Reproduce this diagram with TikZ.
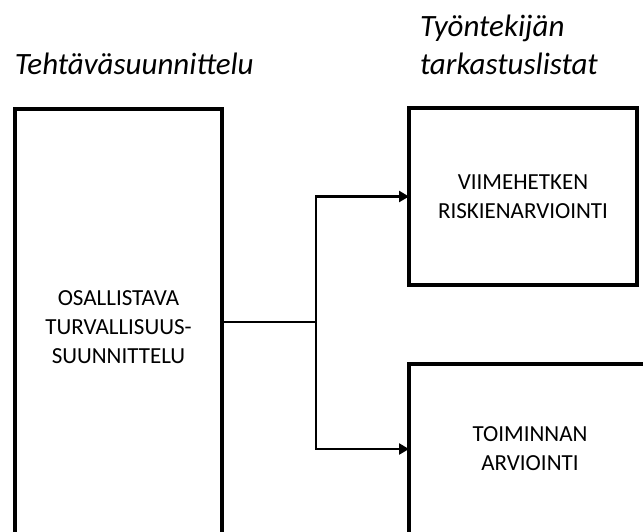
\documentclass[tikz,border=0pt]{standalone}
\usepackage{fontspec}
\setmainfont{Carlito}
\usetikzlibrary{arrows.meta,positioning}

\begin{document}
\begin{tikzpicture}[x=1pt,y=-1pt, every node/.style={inner sep=0pt,outer sep=0pt},
    laatikko/.style={draw=black,line width=4.5pt,fill=white,align=center,font=\fontsize{23}{29}\selectfont},
    otsikko/.style={align=left,font=\fontsize{31}{38}\selectfont\itshape},
    yhteys/.style={line width=2.6pt},
    nuoli/.style={yhteys,-{Triangle[length=10pt,width=11pt]}}]
      \clip (0,0) rectangle (643,531);
      \node[otsikko,anchor=base west](tehtava) at (15,74){Tehtäväsuunnittelu};
      \node[otsikko,anchor=base west](tyontekija) at (420,74){Työntekijän\\tarkastuslistat};
      \node[laatikko,minimum width=207pt,minimum height=436pt,anchor=north west](osall) at (15,109){OSALLISTAVA\\TURVALLISUUS-\\SUUNNITTELU};
      \node[laatikko,minimum width=228pt,minimum height=177pt,anchor=north west](viime) at (409,108){VIIMEHETKEN\\RISKIENARVIOINTI};
      \node[laatikko,minimum width=242pt,minimum height=170pt,anchor=north west](toim) at (409,364){TOIMINNAN\\ARVIOINTI};
      \coordinate (haara) at (316,322);
      % Nuolet
      \draw[yhteys] (osall.east |- haara) -- (haara);
      \draw[nuoli] (haara) |- (viime.west);
      \draw[nuoli] (haara) |- (toim.west);
\end{tikzpicture}
\end{document}
